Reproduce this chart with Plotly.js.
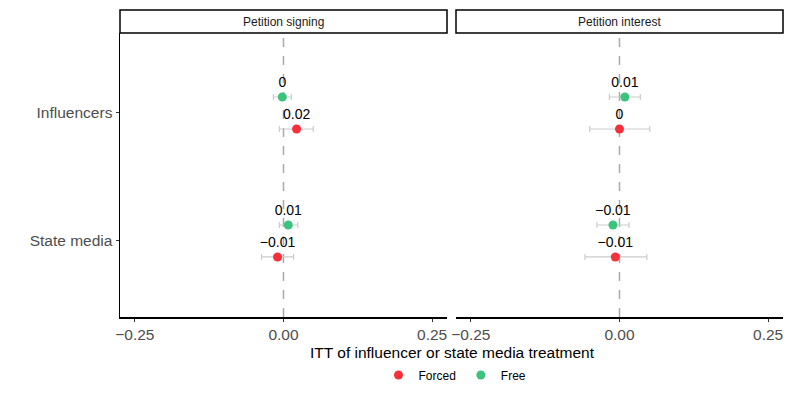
<!DOCTYPE html>
<html>
<head>
<meta charset="utf-8">
<script src="https://cdn.plot.ly/plotly-3.0.1.min.js"></script>
<style>
  body { margin: 0; background: #fff; }
  #chart { width: 793px; height: 397px; }
</style>
</head>
<body>
<div id="chart"></div>
<script>
// categories (top to bottom) and panels
const categories = ["Influencers", "State media"];
const catPos = [2, 1];
const panels = ["Petition signing", "Petition interest"];
const dodge = 0.125;

// Forced group, one array per panel, ordered like categories
const forcedEst = [[0.022, -0.010], [0.000, -0.007]];
const forcedLo  = [[-0.007, -0.037], [-0.050, -0.058]];
const forcedHi  = [[0.050, 0.017], [0.051, 0.046]];
const forcedLab = [["0.02", "\u22120.01"], ["0", "\u22120.01"]];

// Free group
const freeEst = [[-0.002, 0.008], [0.009, -0.011]];
const freeLo  = [[-0.017, -0.007], [-0.017, -0.038]];
const freeHi  = [[0.013, 0.024], [0.035, 0.016]];
const freeLab = [["0", "0.01"], ["0.01", "\u22120.01"]];

const tickVals = [-0.25, 0, 0.25];
const tickText = ["\u22120.25", "0.00", "0.25"];

const red = "#F5303A";
const green = "#3CC47E";
const font = "Liberation Sans, Arial, sans-serif";

function series(name, color, est, lo, hi, lab, shift, p) {
  return {
    type: "scatter",
    mode: "markers+text",
    name: name,
    x: est[p],
    y: catPos.map(c => c + shift),
    text: lab[p],
    textposition: "top center",
    textfont: { family: font, size: 14, color: "#000" },
    marker: { color: color, size: 9 },
    error_x: {
      type: "data",
      symmetric: false,
      array: hi[p].map((h, i) => h - est[p][i]),
      arrayminus: lo[p].map((l, i) => est[p][i] - l),
      color: "#CCCCCC",
      thickness: 1.2,
      width: 3
    },
    xaxis: p === 0 ? "x" : "x2",
    yaxis: p === 0 ? "y" : "y2",
    showlegend: p === 0,
    cliponaxis: false
  };
}

let traces = [];
for (let p = 0; p < panels.length; p++) {
  traces.push(series("Forced", red, forcedEst, forcedLo, forcedHi, forcedLab, -dodge, p));
  traces.push(series("Free", green, freeEst, freeLo, freeHi, freeLab, dodge, p));
}

const dom1 = [120 / 793, 447 / 793];
const dom2 = [456 / 793, 783 / 793];
const yDom = [1 - 317 / 397, 1 - 33 / 397];

const xaxisBase = {
  range: [-0.275, 0.275],
  tickvals: tickVals,
  ticktext: tickText,
  tickfont: { family: font, size: 15.5, color: "#4D4D4D" },
  ticks: "outside",
  ticklen: 3,
  tickcolor: "#333",
  showline: true,
  linecolor: "#000",
  linewidth: 1.5,
  showgrid: false,
  zeroline: false,
  fixedrange: true
};

const yaxisBase = {
  range: [0.406, 2.625],
  domain: yDom,
  tickvals: catPos,
  ticktext: categories,
  tickfont: { family: font, size: 15.5, color: "#4D4D4D" },
  showgrid: false,
  zeroline: false,
  fixedrange: true
};

let shapes = [];
let annotations = [];
[[dom1, "x"], [dom2, "x2"]].forEach(([d, xa], i) => {
  shapes.push({
    type: "line", xref: xa, yref: (i === 0 ? "y" : "y2") + " domain",
    x0: 0, x1: 0, y0: 0, y1: 1,
    line: { color: "#AAAAAA", width: 1.5, dash: "dash" },
    layer: "below"
  });
  shapes.push({
    type: "rect", xref: "paper", yref: "paper",
    x0: d[0], x1: d[1], y0: 1 - 33 / 397, y1: 1 - 10 / 397,
    line: { color: "#000", width: 1.5 }, fillcolor: "#fff"
  });
  annotations.push({
    text: panels[i], xref: "paper", yref: "paper",
    x: (d[0] + d[1]) / 2, y: 1 - 21.5 / 397,
    xanchor: "center", yanchor: "middle",
    showarrow: false, font: { family: font, size: 12, color: "#1A1A1A" }
  });
});
annotations.push({
  text: "ITT of influencer or state media treatment",
  xref: "paper", yref: "paper", x: 452 / 793, y: 1 - 352 / 397,
  xanchor: "center", yanchor: "middle",
  showarrow: false, font: { family: font, size: 15.5, color: "#000" }
});

const layout = {
  width: 793,
  height: 397,
  margin: { l: 0, r: 0, t: 0, b: 0 },
  paper_bgcolor: "#fff",
  plot_bgcolor: "#fff",
  font: { family: font },
  xaxis: Object.assign({}, xaxisBase, { domain: dom1, anchor: "y" }),
  xaxis2: Object.assign({}, xaxisBase, { domain: dom2, anchor: "y2" }),
  yaxis: Object.assign({}, yaxisBase, {
    anchor: "x", showline: true, linecolor: "#000", linewidth: 1.5,
    ticks: "outside", ticklen: 3, tickcolor: "#333"
  }),
  yaxis2: Object.assign({}, yaxisBase, {
    anchor: "x2", showline: false, showticklabels: false, ticks: ""
  }),
  shapes: shapes,
  annotations: annotations,
  legend: {
    orientation: "h", x: 455 / 793, xanchor: "center",
    y: 1 - 375 / 397, yanchor: "middle",
    font: { family: font, size: 12, color: "#000" }
  },
  showlegend: true
};

Plotly.newPlot("chart", traces, layout, { displayModeBar: false, staticPlot: true });
</script>
</body>
</html>
